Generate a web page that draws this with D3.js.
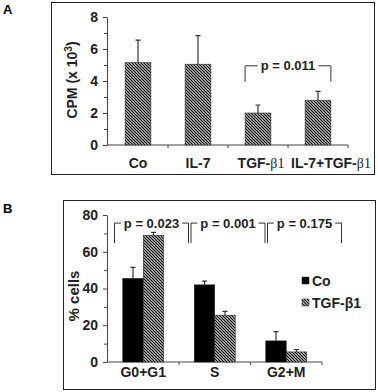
<!DOCTYPE html>
<html>
<head>
<meta charset="utf-8">
<script src="https://cdn.jsdelivr.net/npm/d3@7"></script>
<style>
  body { margin: 0; background: #fff; }
  svg { display: block; font-family: "Liberation Sans", Arial, sans-serif; font-weight: bold; }
</style>
</head>
<body>
<svg id="fig" width="378" height="392"></svg>
<script>
// Panel A: thymidine incorporation
var catsA = ["Co", "IL-7", "TGF-\u03b21", "IL-7+TGF-\u03b21"];
var meanA = [5.15, 5.05, 2.0, 2.8];
var errA = [1.4, 1.78, 0.5, 0.55];
var ticksA = [0, 2, 4, 6, 8];
var pA = "p = 0.011";

// Panel B: cell cycle phases
var phasesB = ["G0+G1", "S", "G2+M"];
var seriesB = ["Co", "TGF-\u03b21"];
var coB = [45.5, 42, 11.5];
var coErrB = [6, 2, 5];
var tgfB = [69, 25.5, 5.5];
var tgfErrB = [1.5, 2, 1.3];
var ticksB = [0, 20, 40, 60, 80];
var pB = ["p = 0.023", "p = 0.001", "p = 0.175"];

var svg = d3.select("#fig");
var ink = "#222";

// hatch pattern
var defs = svg.append("defs");
defs.append("pattern")
    .attr("id", "hatch")
    .attr("patternUnits", "userSpaceOnUse")
    .attr("width", 3).attr("height", 3)
  .call(function(p) {
    p.append("rect").attr("width", 3).attr("height", 3).attr("fill", "#fff");
    p.append("path")
      .attr("d", "M-1,-1 L4,4 M-1,2 L1,4 M2,-1 L4,1")
      .attr("stroke", "#111").attr("stroke-width", 1.3);
  });

function axisStyle(g) {
  g.selectAll("path").attr("stroke", "#444");
  g.selectAll("line").attr("stroke", "#444");
  g.selectAll("text").attr("fill", ink).style("font-size", "14px").style("font-weight", "bold");
}

// labels like "TGF-β1": the β1 part set in a narrower serif, as in the figure
function greekLabel(sel) {
  sel.each(function(d) {
    var t = d3.select(this), k = d.indexOf("\u03b2");
    if (k < 0) { t.text(d); return; }
    t.append("tspan").text(d.slice(0, k));
    t.append("tspan").style("font-family", "'Liberation Serif', serif").style("font-weight", "normal")
      .text(d.slice(k));
  });
}

// ---------- Panel A ----------
svg.append("rect").attr("x", 51.5).attr("y", 2.5).attr("width", 323).attr("height", 172)
  .attr("fill", "none").attr("stroke", ink);
svg.append("text").attr("x", 3).attr("y", 14).text("A").style("font-size", "13px");

var xA = d3.scaleBand().domain(catsA).range([108, 348]);
var yA = d3.scaleLinear().domain([0, 8]).range([145, 17]);

svg.append("g").attr("transform", "translate(107,0)")
  .call(d3.axisLeft(yA).tickValues([1, 3, 5, 7]).tickSize(3).tickFormat(""))
  .call(function(g) { g.select(".domain").remove(); })
  .call(axisStyle);
svg.append("g").attr("transform", "translate(107,0)")
  .call(d3.axisLeft(yA).tickValues(ticksA).tickSize(4).tickPadding(5).tickSizeOuter(0))
  .call(axisStyle);

// x axis line + boundary ticks
svg.append("line").attr("x1", 107).attr("x2", xA.range()[1]).attr("y1", yA(0)).attr("y2", yA(0))
  .attr("stroke", "#444");
svg.selectAll(".tickA").data(catsA).enter().append("line")
  .attr("x1", function(d) { return xA(d) + xA.step(); })
  .attr("x2", function(d) { return xA(d) + xA.step(); })
  .attr("y1", yA(0)).attr("y2", yA(0) + 3).attr("stroke", "#444");

var bwA = xA.bandwidth() * 0.43;
svg.selectAll(".barA").data(catsA).enter().append("rect")
  .attr("x", function(d) { return xA(d) + (xA.bandwidth() - bwA) / 2; })
  .attr("y", function(d, i) { return yA(meanA[i]); })
  .attr("width", bwA)
  .attr("height", function(d, i) { return yA(0) - yA(meanA[i]); })
  .attr("fill", "url(#hatch)").attr("stroke", "#333").attr("stroke-width", 0.6);

svg.selectAll(".errA").data(catsA).enter().append("path")
  .attr("d", function(d, i) {
    var cx = xA(d) + xA.bandwidth() / 2, y0 = yA(meanA[i]), y1 = yA(meanA[i] + errA[i]);
    return "M" + cx + "," + y0 + "V" + y1 + "M" + (cx - 2.5) + "," + y1 + "H" + (cx + 2.5);
  })
  .attr("stroke", "#333").attr("stroke-width", 1.2).attr("fill", "none");

// the two long labels sit a little to the right of their bars
var labShiftA = [0, 0, 3, 13];
svg.selectAll(".labA").data(catsA).enter().append("text")
  .attr("x", function(d, i) { return xA(d) + xA.bandwidth() / 2 + labShiftA[i]; })
  .attr("y", 168)
  .attr("text-anchor", "middle").style("font-size", "14px").attr("fill", ink)
  .call(greekLabel);

var yLabA = svg.append("text").attr("transform", "translate(77,80) rotate(-90)")
  .attr("text-anchor", "middle").style("font-size", "14px").attr("fill", ink);
yLabA.append("tspan").text("CPM (x 10");
yLabA.append("tspan").attr("dy", -5).style("font-size", "10px").text("3");
yLabA.append("tspan").attr("dy", 5).text(")");

// bracket with the p value sitting on its top line
function bracket(x1, x2, yTop, yBot, label) {
  var t = svg.append("text").attr("x", (x1 + x2) / 2).attr("y", yTop + 4.5)
    .attr("text-anchor", "middle").style("font-size", "13px").attr("fill", ink).text(label);
  var w = t.node().getComputedTextLength();
  var mid = (x1 + x2) / 2;
  svg.append("path")
    .attr("d", "M" + x1 + "," + yBot + "V" + yTop + "H" + (mid - w / 2 - 3) +
      "M" + (mid + w / 2 + 3) + "," + yTop + "H" + x2 + "V" + yBot)
    .attr("fill", "none").attr("stroke", "#333").attr("stroke-width", 1);
}
bracket(xA(catsA[2]) + (xA.bandwidth() - bwA) / 2,
        xA(catsA[3]) + (xA.bandwidth() + bwA) / 2,
        yA(4.95), yA(3.95), pA);

// ---------- Panel B ----------
svg.append("rect").attr("x", 63.5).attr("y", 200.5).attr("width", 312).attr("height", 189)
  .attr("fill", "none").attr("stroke", ink);
svg.append("text").attr("x", 3).attr("y", 213).text("B").style("font-size", "13px");

var xB = d3.scaleBand().domain(phasesB).range([107.5, 322]);
var yB = d3.scaleLinear().domain([0, 80]).range([362, 215]);
var xSub = d3.scaleBand().domain(seriesB).range([-20.5, 20.5]);

svg.append("g").attr("transform", "translate(107,0)")
  .call(d3.axisLeft(yB).tickValues([10, 30, 50, 70]).tickSize(3).tickFormat(""))
  .call(function(g) { g.select(".domain").remove(); })
  .call(axisStyle);
svg.append("g").attr("transform", "translate(107,0)")
  .call(d3.axisLeft(yB).tickValues(ticksB).tickSize(4).tickPadding(5).tickSizeOuter(0))
  .call(axisStyle);

svg.append("line").attr("x1", 107).attr("x2", xB.range()[1]).attr("y1", yB(0)).attr("y2", yB(0))
  .attr("stroke", "#444");
svg.selectAll(".tickB").data(phasesB).enter().append("line")
  .attr("x1", function(d) { return xB(d) + xB.step(); })
  .attr("x2", function(d) { return xB(d) + xB.step(); })
  .attr("y1", yB(0)).attr("y2", yB(0) + 3).attr("stroke", "#444");

var seriesData = [
  { name: seriesB[0], vals: coB, errs: coErrB, fill: "#000" },
  { name: seriesB[1], vals: tgfB, errs: tgfErrB, fill: "url(#hatch)" }
];
seriesData.forEach(function(s) {
  var g = svg.append("g");
  g.selectAll("rect").data(phasesB).enter().append("rect")
    .attr("x", function(d) { return xB(d) + xB.bandwidth() / 2 + xSub(s.name); })
    .attr("y", function(d, i) { return yB(s.vals[i]); })
    .attr("width", xSub.bandwidth())
    .attr("height", function(d, i) { return yB(0) - yB(s.vals[i]); })
    .attr("fill", s.fill).attr("stroke", "#222").attr("stroke-width", 0.5);
  g.selectAll("path").data(phasesB).enter().append("path")
    .attr("d", function(d, i) {
      var cx = xB(d) + xB.bandwidth() / 2 + xSub(s.name) + xSub.bandwidth() / 2;
      var y0 = yB(s.vals[i]), y1 = yB(s.vals[i] + s.errs[i]);
      return "M" + cx + "," + y0 + "V" + y1 + "M" + (cx - 2.5) + "," + y1 + "H" + (cx + 2.5);
    })
    .attr("stroke", "#333").attr("stroke-width", 1.2).attr("fill", "none");
});

svg.selectAll(".labB").data(phasesB).enter().append("text")
  .attr("x", function(d) { return xB(d) + xB.bandwidth() / 2; })
  .attr("y", 377)
  .attr("text-anchor", "middle").style("font-size", "14px").attr("fill", ink)
  .text(function(d) { return d; });

svg.append("text").attr("transform", "translate(79,296) rotate(-90)")
  .attr("text-anchor", "middle").style("font-size", "15px").attr("fill", ink).text("% cells");

// p-value brackets across phases
pB.forEach(function(p, i) {
  var x1 = xB.range()[0] + 7 + i * 76.5;
  bracket(x1, x1 + 74, yB(75.6), yB(64.7), p);
});

// legend
var leg = svg.selectAll(".leg").data(seriesData).enter().append("g")
  .attr("transform", function(d, i) { return "translate(302," + (281 + i * 22) + ")"; });
leg.append("rect").attr("x", 0).attr("y", -4).attr("width", 7).attr("height", 7)
  .attr("fill", function(d) { return d.fill; }).attr("stroke", "#222").attr("stroke-width", 0.5);
leg.append("text").attr("x", 10).attr("y", 5).style("font-size", "14px").attr("fill", ink)
  .text(function(d) { return d.name; });
</script>
</body>
</html>
